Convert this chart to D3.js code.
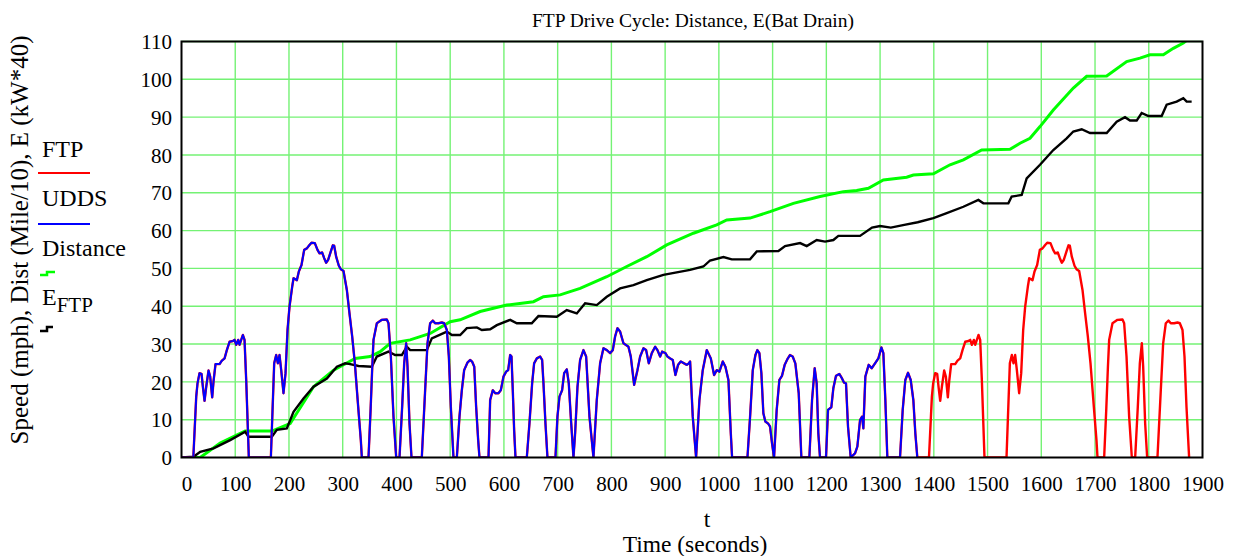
<!DOCTYPE html>
<html>
<head>
<meta charset="utf-8">
<script src="https://cdn.jsdelivr.net/npm/d3@7"></script>
<style>
  body { margin: 0; background: #fff; }
  svg text { font-family: "Liberation Serif", "Times New Roman", serif; fill: #000; }
</style>
</head>
<body>
<svg id="chart" width="1241" height="556"></svg>
<script>
// speed trace of the UDDS part (t seconds, mph)
let udds_speed = [
  [0,0],[22,0],[27.4,16.1],[29.8,19.6],[33.5,22.3],[37.3,22.1],[39.8,18.7],[42.9,15],[46,18.7],
  [50.3,23],[53.4,21.4],[57.1,15.9],[59.6,20.1],[63.3,24.7],[70.8,24.7],[75.1,25.6],[80.1,26.2],
  [84.4,28.4],[89.4,30.6],[95.6,30.8],[98.7,31.1],[101.8,29.8],[105.5,31.1],[108,29.8],[114.2,32.4],
  [117.3,31.1],[120.4,20.5],[125.3,0],[166.3,0],[172.5,24.9],[176.2,27.1],[179.3,24.9],[182.4,27.1],
  [185.5,23.2],[189.8,17],[193.6,22.3],[197.3,33.7],[201,39.9],[206,45.2],[208.5,47.4],[214.7,46.9],
  [218.4,49.2],[223.3,50.9],[228.3,54.9],[233.3,55.3],[238.2,56.2],[242,56.8],[248.1,56.7],
  [253.1,54.9],[256.8,54],[261.8,54.2],[265.5,52.7],[269.2,51.5],[273,52.3],[277.9,54.5],
  [281.6,56.1],[284.1,56],[287.8,53.1],[292.8,50.7],[296.5,49.8],[301.5,49.3],[307.7,44.3],
  [312.6,38.1],[317.6,32],[322.6,24.9],[328.8,13.4],[333.7,4.6],[335.6,0],[348,0],[352,13],
  [355,24],[357.3,31.1],[363.5,35.5],[372.8,36.4],[382.1,36.5],[385.2,35.5],[389.6,26.7],
  [394.5,10.8],[399.5,0],[405.7,0],[410.6,13.4],[414.4,24.9],[418.1,30.2],[420.6,24],[424.3,9],
  [428,0],[447.2,0],[453.4,17.8],[457.8,30.2],[462.7,35.5],[467.7,36.2],[472,35.5],[478.2,35.5],
  [484.5,35.7],[488.8,35.5],[493.8,33.7],[497.5,26.7],[501.2,13.4],[506.1,0],[512.4,0],
  [517.3,10.8],[521.7,17.8],[526,23.1],[532.2,25.1],[537.2,25.8],[541,25.3],[544.8,24],
  [548.3,13.4],[552.1,4.6],[554.5,0],[571.3,0],[574.4,15.2],[579.3,17.8],[583.7,17],[589.9,17],
  [594.2,17.8],[599.2,21.4],[604.1,22.7],[607.9,23.1],[611.6,27.1],[614.1,26.7],[616.5,17.8],
  [619,7.3],[621.5,0],[642.6,0],[647.5,9],[652.5,19.6],[656.2,24.9],[661.2,26.2],[667.4,26.7],
  [671.1,25.8],[673.6,19.6],[677.3,9],[681,0],[695.9,0],[699.6,10.8],[703.4,16.1],[708.3,17.8],
  [712.1,22.3],[717,23.3],[720.7,19.6],[724.4,10.8],[729.4,0],[732.5,6.4],[736.9,18.7],
  [741.8,25.8],[748,28.4],[753,26.7],[759.2,10.8],[766.6,0],[772.8,15.2],[779,24.9],[785.2,28.9],
  [791.4,28.4],[797.6,27.6],[802.6,28.4],[806.9,32],[811.3,34.2],[816.2,33.3],[822.4,30.2],
  [831.7,29.3],[836.1,26.7],[842.3,19.2],[848.5,23.1],[853.5,26.7],[859.7,28.9],[864.6,28.4],
  [869.6,24.9],[875.2,27.6],[881.4,29.3],[885.7,28.4],[890.7,26.7],[894.4,28],[900.6,27.6],
  [904.3,26.7],[909.3,26.2],[914.2,25.8],[919.2,21.8],[924.1,24.5],[929.1,25.4],[935.3,24.9],
  [940.3,24.5],[944,24.9],[946.5,25.4],[951.4,10.8],[957.6,0],[963.8,15.2],[970,23.1],
  [977.5,28.4],[985,26.2],[991.1,21.8],[996.1,23.1],[1001,22.7],[1007.3,25.4],[1012.2,24],
  [1017.8,20.5],[1022.2,6.4],[1024.6,0],[1053.2,0],[1058.1,10.8],[1063.1,23.1],[1068,27.1],
  [1071.6,28.4],[1075.4,27.6],[1079.1,22.3],[1082.8,11.7],[1086.5,9.5],[1091.5,9],[1095.2,8.2],
  [1099,3.7],[1102.7,0],[1107.6,12.6],[1112.6,20.5],[1117.5,21.6],[1122.5,24.5],[1127.5,26],
  [1132.4,27.1],[1137.4,26.7],[1142.3,24.9],[1148.6,17],[1153.5,0],[1168.4,0],[1173.4,15.2],
  [1178.3,23.6],[1182,19.6],[1185.1,6.4],[1188.2,0],[1199.4,0],[1203.1,12.6],[1209.3,13.3],
  [1213,18.3],[1218,21.6],[1224.2,22.1],[1229.2,20.9],[1232.9,19.8],[1236.6,19.6],[1240.3,8.2],
  [1245.3,0],[1253.4,1.1],[1257.7,2.9],[1262.7,9.9],[1266.4,10.8],[1268.9,7.7],[1272.6,21.4],
  [1278.8,24.5],[1284.4,23.6],[1290.6,24.9],[1296.8,26.2],[1302.4,29.1],[1306.1,27.6],
  [1309.8,15.2],[1313.5,0],[1337.1,0],[1342.1,12.6],[1347,20.5],[1352,22.4],[1357,20.5],
  [1361.9,15.2],[1365.6,6.4],[1369.3,0]
];

// hot start tail of the FTP (red only)
let hot_speed = [
  [1391,0],[1396.4,16.1],[1398.8,19.6],[1402.5,22.3],[1406.3,22.1],[1408.8,18.7],[1411.9,15],
  [1415,18.7],[1419.3,23],[1422.4,21.4],[1426.1,15.9],[1428.6,20.1],[1432.3,24.7],[1439.8,24.7],
  [1444.1,25.6],[1449.1,26.2],[1453.4,28.4],[1458.4,30.6],[1464.6,30.8],[1467.7,31.1],
  [1470.8,29.8],[1474.5,31.1],[1477,29.8],[1483.2,32.4],[1486.3,31.1],[1489.4,20.5],[1494.3,0],
  [1535.3,0],[1541.5,24.9],[1545.2,27.1],[1548.3,24.9],[1551.4,27.1],[1554.5,23.2],[1558.8,17],
  [1562.6,22.3],[1566.3,33.7],[1570,39.9],[1575,45.2],[1577.5,47.4],[1583.7,46.9],[1587.4,49.2],
  [1592.3,50.9],[1597.3,54.9],[1602.3,55.3],[1607.2,56.2],[1611,56.8],[1617.1,56.7],[1622.1,54.9],
  [1625.8,54],[1630.8,54.2],[1634.5,52.7],[1638.2,51.5],[1642,52.3],[1646.9,54.5],[1650.6,56.1],
  [1653.1,56],[1656.8,53.1],[1661.8,50.7],[1665.5,49.8],[1670.5,49.3],[1676.7,44.3],[1681.6,38.1],
  [1686.6,32],[1691.6,24.9],[1697.8,13.4],[1702.7,4.6],[1704.6,0],[1717,0],[1721,13],[1724,24],
  [1726.3,31.1],[1732.5,35.5],[1741.8,36.4],[1751.1,36.5],[1754.2,35.5],[1758.6,26.7],
  [1763.5,10.8],[1768.5,0],[1774.7,0],[1779.6,13.4],[1783.4,24.9],[1787.1,30.2],[1789.6,24],
  [1793.3,9],[1797,0],[1816.2,0],[1822.4,17.8],[1826.8,30.2],[1831.7,35.5],[1836.7,36.2],
  [1841,35.5],[1847.2,35.5],[1853.5,35.7],[1857.8,35.5],[1862.8,33.7],[1866.5,26.7],
  [1870.2,13.4],[1875.1,0]
];

// distance, mile/10
let distance = [
  [0,0],[34.8,0],[72,3.8],[118.5,7],[168.1,7],[196,8.6],[202.2,9],[245.7,18.7],[282.9,23.1],
  [323.2,26.2],[351.1,26.7],[369.7,28],[388.3,30.2],[425.5,31.1],[462.7,32.8],[500,35.9],
  [518.5,36.4],[555.7,38.6],[605.3,40.3],[655,41.2],[673.6,42.5],[704.6,43],[741.8,44.7],
  [791.4,47.8],[828.6,50.5],[865.8,53.1],[903,56.2],[952.6,59.3],[996,61.5],[1014.7,62.8],
  [1058,63.3],[1095.3,65],[1138.7,67.2],[1188.3,69],[1231.7,70.3],[1256.5,70.6],[1278.2,71.2],
  [1306.1,73.4],[1349.5,74.1],[1361.9,74.7],[1399.2,75],[1430.2,77.4],[1455,78.7],[1489.1,81.3],
  [1541.8,81.5],[1560.4,83.1],[1579,84.4],[1597.6,87.5],[1622.4,91.9],[1659.6,97.7],
  [1684.4,100.8],[1721.7,100.9],[1758.9,104.7],[1783.7,105.6],[1802.3,106.5],[1827.1,106.5],
  [1845.7,108.2],[1864.3,109.6],[1875,110.8]
];

// battery drain energy, kW*40
let energy = [
  [0,0],[22.4,0.2],[34.8,1.5],[59.6,2.4],[90.6,4.6],[118.5,6.8],[124.7,5.5],[168.1,5.5],
  [177.4,7.3],[196,7.7],[208.5,12.1],[227,15.6],[245.7,18.7],[270.5,20.9],[289.1,24],
  [304.6,24.9],[313.9,24.7],[329.4,24.2],[354.2,24],[363.5,26.7],[385.2,28],[397.6,27.1],
  [410,27.1],[419.3,29.3],[425.5,28.4],[456.5,28.4],[465.8,31.5],[493.8,33.3],[503.1,32.4],
  [518.6,32.4],[531,34.2],[549.6,34.4],[558.9,33.7],[574.4,33.9],[586.8,35],[611.6,36.4],
  [624,35.5],[651.8,35.5],[664.2,37.4],[698.4,37.2],[717,39],[735.6,38.1],[751.1,40.8],
  [772.8,40.3],[791.4,42.5],[816.2,44.7],[841,45.6],[865.8,46.9],[896.8,48.3],[946.4,49.6],
  [971.2,50.5],[983.6,52.1],[1008.5,53],[1024,52.4],[1058,52.4],[1070.5,54.5],[1110.8,54.6],
  [1123.2,55.9],[1151.1,56.7],[1163.5,55.9],[1182.1,57.5],[1197.6,57.1],[1213.1,57.5],
  [1222.4,58.6],[1262.7,58.6],[1285,60.8],[1300,61.2],[1320,60.8],[1345,61.5],[1370,62.2],
  [1399.2,63.3],[1424,64.6],[1455,66.3],[1482.9,68.1],[1492.2,67.2],[1538.7,67.2],[1544.9,69],
  [1563.5,69.4],[1572.8,73.8],[1597.6,77.4],[1622.4,81.3],[1647.2,84.4],[1659.6,86.2],
  [1675.2,86.8],[1690.7,85.8],[1721.7,85.8],[1740.3,88.8],[1755.8,90],[1765.1,89.1],
  [1777.5,89.1],[1786.8,91.1],[1799.2,90.3],[1824,90.3],[1833.3,93.3],[1851.9,94.1],
  [1864.3,95],[1870.5,94.1],[1879.8,94.1]
];

let x_ticks = d3.range(0, 2000, 100);
let y_ticks = d3.range(0, 120, 10);

let svg = d3.select("#chart");

let x = d3.scaleLinear().domain([0, 1900]).range([181.5, 1202.5]);
let y = d3.scaleLinear().domain([0, 110]).range([457.5, 41.5]);

svg.append("defs").append("clipPath").attr("id", "plotclip")
    .append("rect")
    .attr("x", x(0)).attr("y", y(110))
    .attr("width", x(1900) - x(0)).attr("height", y(0) - y(110));

// grid
let grid = svg.append("g");
grid.selectAll("line.v").data(x_ticks.filter(d => d > 0 && d < 1900)).join("line")
    .attr("x1", d => x(d)).attr("x2", d => x(d))
    .attr("y1", y(0)).attr("y2", y(110))
    .attr("stroke", "#74f274").attr("stroke-width", 1.4);
grid.selectAll("line.h").data(y_ticks.filter(d => d > 0)).join("line")
    .attr("x1", x(0)).attr("x2", x(1900))
    .attr("y1", d => y(d)).attr("y2", d => y(d))
    .attr("stroke", "#74f274").attr("stroke-width", 1.4);

// axes: labels only
let x_axis = d3.axisBottom(x).tickValues(x_ticks).tickFormat(d3.format("d")).tickSize(0).tickPadding(0);
svg.append("g").attr("transform", "translate(0," + y(0) + ")")
    .call(x_axis)
    .attr("font-family", null).attr("font-size", null)
    .call(g => g.select(".domain").remove())
    .call(g => g.selectAll("text")
        .attr("dy", null).attr("y", 33)
        .attr("dx", d => d === 0 ? 5 : 0)
        .style("font-size", "21px").attr("fill", "#000"));

let y_axis = d3.axisLeft(y).tickValues(y_ticks).tickFormat(d3.format("d")).tickSize(0).tickPadding(0);
svg.append("g").attr("transform", "translate(172,0)")
    .call(y_axis)
    .attr("font-family", null).attr("font-size", null)
    .call(g => g.select(".domain").remove())
    .call(g => g.selectAll("text")
        .attr("dy", "0.34em")
        .style("font-size", "21px").attr("fill", "#000"));

// traces
let line = d3.line().x(d => x(d[0])).y(d => y(d[1]));
let plot = svg.append("g").attr("clip-path", "url(#plotclip)");

plot.append("path").datum(distance)
    .attr("d", line).attr("fill", "none")
    .attr("stroke", "#00ff00").attr("stroke-width", 3);

plot.append("path").datum(energy)
    .attr("d", line).attr("fill", "none")
    .attr("stroke", "#000").attr("stroke-width", 2.4);

plot.append("path").datum(udds_speed.concat(hot_speed))
    .attr("d", line).attr("fill", "none")
    .attr("stroke", "#ff0000").attr("stroke-width", 2.4)
    .attr("stroke-linejoin", "round");

plot.append("path").datum(udds_speed)
    .attr("d", line).attr("fill", "none")
    .attr("stroke", "#0000ff").attr("stroke-width", 2)
    .attr("stroke-linejoin", "round");

// frame
svg.append("rect")
    .attr("x", x(0)).attr("y", y(110))
    .attr("width", x(1900) - x(0)).attr("height", y(0) - y(110))
    .attr("fill", "none").attr("stroke", "#000").attr("stroke-width", 2);

// titles
svg.append("text").attr("x", 693).attr("y", 27)
    .attr("text-anchor", "middle").style("font-size", "19.5px")
    .text("FTP Drive Cycle: Distance, E(Bat Drain)");
svg.append("text").attr("x", 707).attr("y", 527)
    .attr("text-anchor", "middle").style("font-size", "23.5px")
    .text("t");
svg.append("text").attr("x", 695).attr("y", 552)
    .attr("text-anchor", "middle").style("font-size", "23.5px")
    .text("Time (seconds)");
svg.append("text")
    .attr("transform", "translate(28,240) rotate(-90)")
    .attr("text-anchor", "middle").style("font-size", "25px")
    .text("Speed (mph), Dist (Mile/10), E (kW*40)");

// legend
let legend = svg.append("g");
legend.append("text").attr("x", 42).attr("y", 157).style("font-size", "24px").text("FTP");
legend.append("line").attr("x1", 38).attr("x2", 90).attr("y1", 173).attr("y2", 173)
    .attr("stroke", "#ff0000").attr("stroke-width", 2);
legend.append("text").attr("x", 42).attr("y", 206).style("font-size", "24px").text("UDDS");
legend.append("line").attr("x1", 38).attr("x2", 90).attr("y1", 224).attr("y2", 224)
    .attr("stroke", "#0000ff").attr("stroke-width", 2);
legend.append("text").attr("x", 42).attr("y", 256).style("font-size", "24px").text("Distance");
legend.append("path").attr("d", "M40,275H47V272H55")
    .attr("fill", "none").attr("stroke", "#00ff00").attr("stroke-width", 2.5);
let e_label = legend.append("text").attr("x", 42).attr("y", 305).style("font-size", "24px");
e_label.append("tspan").text("E");
e_label.append("tspan").attr("dy", 7).style("font-size", "21px").text("FTP");
legend.append("path").attr("d", "M40,331H47V327H53")
    .attr("fill", "none").attr("stroke", "#000").attr("stroke-width", 2.5);
</script>
</body>
</html>
